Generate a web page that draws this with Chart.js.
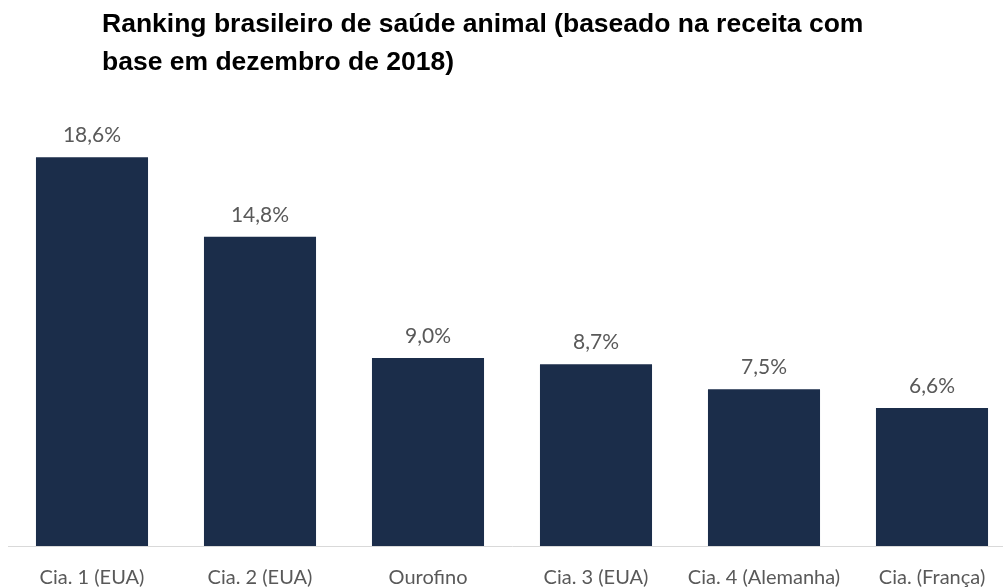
<!DOCTYPE html>
<html>
<head>
<meta charset="utf-8">
<script src="https://cdn.jsdelivr.net/npm/chart.js@4.4.1/dist/chart.umd.min.js"></script>
<style>
  html, body { margin: 0; padding: 0; background: #fff; overflow: hidden; width: 1003px; height: 587px; }
  #title {
    position: absolute; left: 102px; top: 4px; z-index: 2;
    font-family: "Liberation Sans", Arial, sans-serif; font-weight: bold;
    font-size: 26.5px; line-height: 38px; color: #000; white-space: nowrap;
  }
  #wrap { position: absolute; left: 0; top: 0; width: 1020px; height: 610px; }
</style>
</head>
<body>
<div id="title">Ranking brasileiro de saúde animal (baseado na receita com<br>base em dezembro de 2018)</div>
<div id="wrap"><canvas id="chart"></canvas></div>
<script>
const categories = ['Cia. 1 (EUA)', 'Cia. 2 (EUA)', 'Ourofino', 'Cia. 3 (EUA)', 'Cia. 4 (Alemanha)', 'Cia. (França)'];
const shares = [18.6, 14.8, 9.0, 8.7, 7.5, 6.6];

// percent labels above each bar
const valueLabels = {
    id: 'valueLabels',
    afterDatasetsDraw(chart) {
        const ctx = chart.ctx;
        const meta = chart.getDatasetMeta(0);
        ctx.save();
        ctx.font = '21px Lato, "Open Sans", sans-serif';
        ctx.fillStyle = '#595959';
        ctx.textAlign = 'center';
        ctx.textBaseline = 'alphabetic';
        meta.data.forEach((bar, i) => {
            const txt = shares[i].toFixed(1).replace('.', ',') + '%';
            ctx.fillText(txt, bar.x, bar.y - 15);
        });
        ctx.restore();
    }
};

new Chart(document.getElementById('chart'), {
    type: 'bar',
    data: {
        labels: categories,
        datasets: [{
            data: shares,
            backgroundColor: '#1b2d4a',
            categoryPercentage: 1,
            barPercentage: 0.667
        }]
    },
    options: {
        responsive: true,
        maintainAspectRatio: false,
        animation: false,
        layout: { padding: { left: 8, right: 4, top: 128, bottom: 0 } },
        plugins: { legend: { display: false }, tooltip: { enabled: false } },
        scales: {
            x: {
                grid: { display: false, drawTicks: false, tickLength: 0 },
                border: { display: true, color: '#d9d9d9', width: 1 },
                ticks: {
                    color: '#595959',
                    padding: 20,
                    font: { family: 'Lato, "Open Sans", sans-serif', size: 20 }
                }
            },
            y: { display: false, min: 0, max: 20 }
        }
    },
    plugins: [valueLabels]
});
</script>
</body>
</html>
